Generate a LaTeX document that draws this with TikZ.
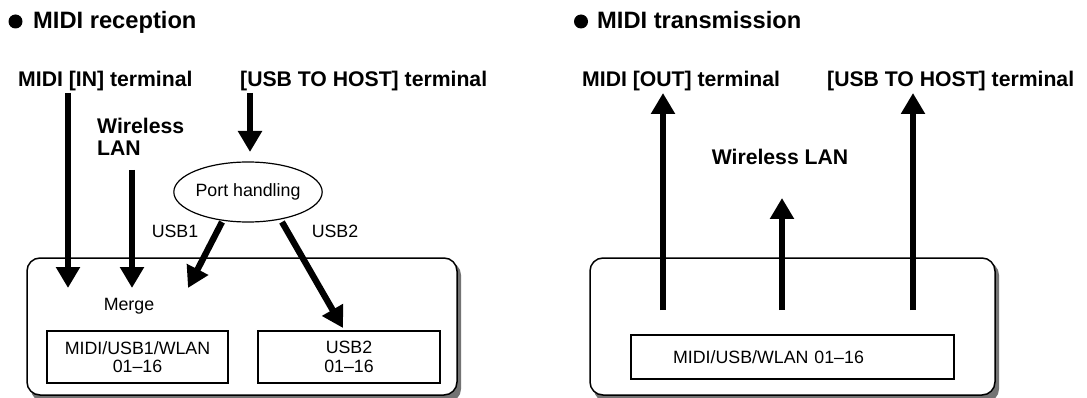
\documentclass[tikz,border=0pt]{standalone}
\usepackage{fontspec}
\setmainfont{Liberation Sans}
\usetikzlibrary{arrows.meta,shapes.geometric}
\tikzset{
  heading/.style={font=\fontsize{23.7}{26}\selectfont\bfseries, inner sep=0pt, anchor=base west},
  term/.style={font=\fontsize{21.2}{22}\selectfont\bfseries, inner sep=0pt},
  plain/.style={font=\fontsize{17.8}{18.5}\selectfont, inner sep=0pt},
  bigarrow/.style={line width=6.3pt, -{Triangle[length=21pt,width=23pt]}},
  device/.style={draw, line width=1.5pt, rounded corners=13pt, fill=white, inner sep=0pt},
  devshadow/.style={fill=black!55, rounded corners=13pt},
  chbox/.style={draw, line width=1.4pt, fill=white, inner sep=0pt, align=center,
                font=\fontsize{17.8}{18.5}\selectfont},
  porte/.style={draw, ellipse, line width=1.2pt, minimum width=130pt, minimum height=60pt, inner sep=0pt,
                font=\fontsize{17.8}{18.5}\selectfont},
}
\begin{document}
\begin{tikzpicture}[x=1pt,y=-1pt]
\useasboundingbox (0,0) rectangle (1087,398);

% ---------- headings ----------
\fill (15.5,21.5) circle (7pt);
\node[heading] (hrec) at (33,29) {MIDI reception};
\fill (581,21.5) circle (7pt);
\node[heading] (htra) at (597,29) {MIDI transmission};

% ---------- left panel: reception ----------
\node[term, anchor=base west] (midiin) at (18,87) {MIDI [IN] terminal};
\node[term, anchor=base west] (usbin) at (240,87) {[USB TO HOST] terminal};
\node[term, anchor=north west, align=left] (wlanin) at (97,118) {Wireless\\LAN};

\fill[devshadow] (31,262) rectangle (461,402);
\node[device, minimum width=430pt, minimum height=137pt] (devL) at (242,326.5) {};

\node[porte] (port) at (248,192) {Port handling};

\node[plain, anchor=base] (usb1) at (175,238) {USB1};
\node[plain, anchor=base] (usb2) at (335,238) {USB2};
\node[plain, anchor=base] (merge) at (129,310) {Merge};

\node[chbox, minimum width=181pt, minimum height=52pt] (bx1) at (137.5,357) {MIDI/USB1/WLAN\\01–16};
\node[chbox, minimum width=182pt, minimum height=52pt] (bx2) at (349,357) {USB2\\01–16};

\coordinate (inS) at (68,93);
\coordinate (inT) at (68,288);
\coordinate (wlS) at (132,170);
\coordinate (wlT) at (132,288);
\coordinate (usS) at (250,93);
\coordinate (usT) at (250,152);
\coordinate (u1S) at (222,222);
\coordinate (u1T) at (188,288);
\coordinate (u2S) at (282,222);
\coordinate (u2T) at (343,328);

\draw[bigarrow] (inS) -- (inT);
\draw[bigarrow] (wlS) -- (wlT);
\draw[bigarrow] (usS) -- (usT);
\draw[bigarrow] (u1S) -- (u1T);
\draw[bigarrow] (u2S) -- (u2T);

% ---------- right panel: transmission ----------
\node[term, anchor=base west] (midiout) at (582,87) {MIDI [OUT] terminal};
\node[term, anchor=base west] (usbout) at (827,87) {[USB TO HOST] terminal};
\node[term, anchor=base] (wlanout) at (780,165) {Wireless LAN};

\fill[devshadow] (594,262) rectangle (999,402);
\node[device, minimum width=405pt, minimum height=137pt] (devR) at (792.5,326.5) {};

\node[chbox, minimum width=323pt, minimum height=44pt, inner xsep=42pt, text width=239pt, align=left] (bx3) at (792.5,357) {MIDI/USB/WLAN 01–16};

\coordinate (o1S) at (663,310);
\coordinate (o1T) at (663,93);
\coordinate (o2S) at (782,310);
\coordinate (o2T) at (782,198);
\coordinate (o3S) at (913,310);
\coordinate (o3T) at (913,93);

\draw[bigarrow] (o1S) -- (o1T);
\draw[bigarrow] (o2S) -- (o2T);
\draw[bigarrow] (o3S) -- (o3T);
\end{tikzpicture}
\end{document}
